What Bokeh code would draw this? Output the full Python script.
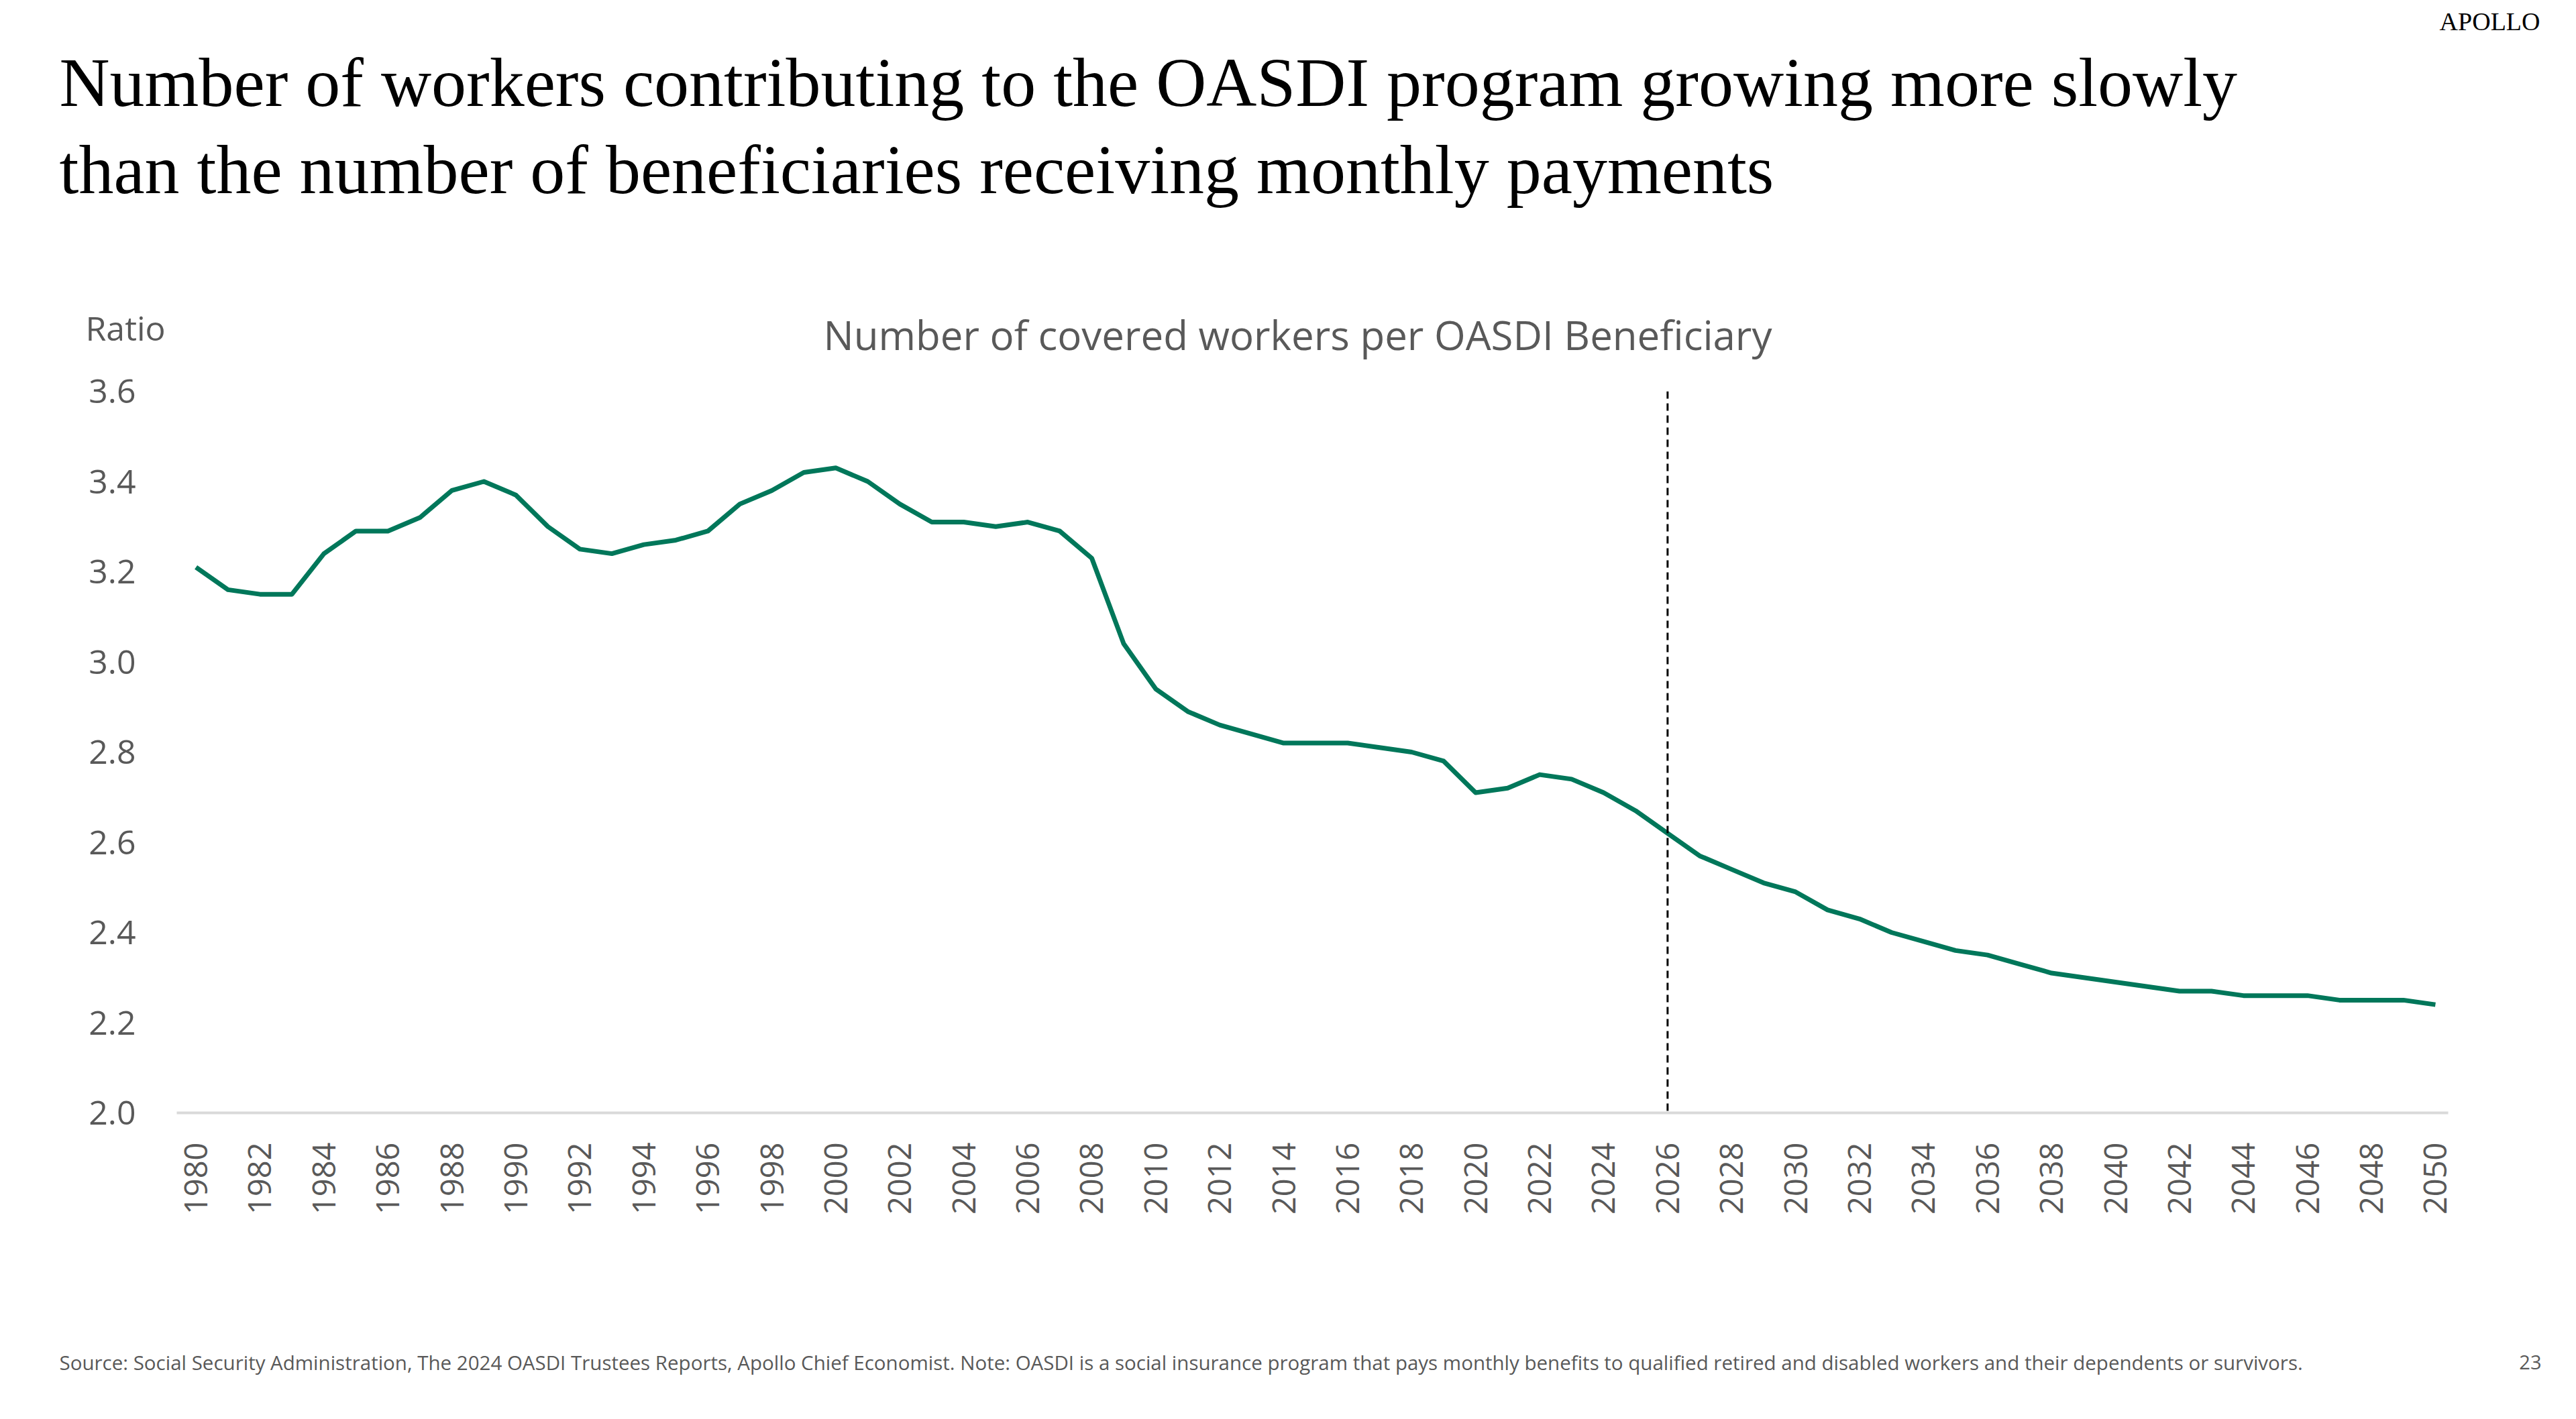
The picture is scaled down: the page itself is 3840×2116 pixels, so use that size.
from bokeh.plotting import figure
from bokeh.layouts import column
from bokeh.models import Range1d, Label, Span, FixedTicker, NumeralTickFormatter
from bokeh.embed import file_html
from bokeh.resources import INLINE
from math import pi

years = list(range(1980, 2051))
ratio = [3.21, 3.16, 3.15, 3.15, 3.24, 3.29, 3.29, 3.32, 3.38, 3.40,
         3.37, 3.30, 3.25, 3.24, 3.26, 3.27, 3.29, 3.35, 3.38, 3.42,
         3.43, 3.40, 3.35, 3.31, 3.31, 3.30, 3.31, 3.29, 3.23, 3.04,
         2.94, 2.89, 2.86, 2.84, 2.82, 2.82, 2.82, 2.81, 2.80, 2.78,
         2.71, 2.72, 2.75, 2.74, 2.71, 2.67, 2.62, 2.57, 2.54, 2.51,
         2.49, 2.45, 2.43, 2.40, 2.38, 2.36, 2.35, 2.33, 2.31, 2.30,
         2.29, 2.28, 2.27, 2.27, 2.26, 2.26, 2.26, 2.25, 2.25, 2.25,
         2.24]
x_ticks = list(range(1980, 2051, 2))
y_ticks = [2.0, 2.2, 2.4, 2.6, 2.8, 3.0, 3.2, 3.4, 3.6]
forecast_year = 2026

title_lines = ["Number of workers contributing to the OASDI program growing more slowly",
               "than the number of beneficiaries receiving monthly payments"]
chart_title = "Number of covered workers per OASDI Beneficiary"
y_label = "Ratio"
source_text = ("Source: Social Security Administration, The 2024 OASDI Trustees Reports, Apollo Chief Economist. "
               "Note: OASDI is a social insurance program that pays monthly benefits to qualified retired and "
               "disabled workers and their dependents or survivors.")
page_no = "23"
brand = "APOLLO"

W, H = 3840, 2116
TOP_H = 540          # header strip height
BOT_Y = 1990         # footer strip starts here
FL, FR, FT, FB = 263, 3649, 583, 1659  # frame edges in page px

grey = "#595959"
sans = "Open Sans"
serif = "Liberation Serif"


def no_align(f):
    try:
        f.frame_align = False
    except Exception:
        pass


def strip(height):
    f = figure(width=W, height=height, output_backend="svg", toolbar_location=None,
               x_range=Range1d(0, W), y_range=Range1d(height, 0),
               x_axis_location=None, y_axis_location=None,
               min_border=0, min_border_left=0, min_border_right=0,
               min_border_top=0, min_border_bottom=0)
    f.grid.visible = False
    f.outline_line_color = None
    f.background_fill_color = "white"
    f.border_fill_color = "white"
    no_align(f)
    return f


def add_text(f, x, y, text, size, font, color, align="left"):
    f.add_layout(Label(x=x, y=y, text=text, text_font=font, text_font_size=size,
                       text_color=color, text_align=align, text_baseline="middle"))


# header
top = strip(TOP_H)
add_text(top, 88, 122, title_lines[0], "104px", serif, "black")
add_text(top, 88, 252, title_lines[1], "104px", serif, "black")
add_text(top, 3786, 31, brand, "38px", serif, "black", align="right")
add_text(top, 1934, 498, chart_title, "60px", sans, grey, align="center")
add_text(top, 127, 488, y_label, "50px", sans, grey)

# main chart
p = figure(width=W, height=BOT_Y - TOP_H, output_backend="svg", toolbar_location=None,
           x_range=Range1d(1979.4, 2050.4), y_range=Range1d(2.0, 3.6),
           min_border_left=FL, min_border_right=W - FR,
           min_border_top=FT - TOP_H, min_border_bottom=BOT_Y - FB)
p.outline_line_color = None
p.xgrid.grid_line_color = None
p.ygrid.grid_line_color = None
p.background_fill_color = "white"
p.border_fill_color = "white"
no_align(p)

p.line(years, ratio, line_color="#00775A", line_width=7, line_join="round")
p.add_layout(Span(location=forecast_year, dimension="height", line_color="black",
                  line_width=3, line_dash="11 7"))

xa = p.xaxis[0]
xa.ticker = FixedTicker(ticks=x_ticks)
xa.major_label_orientation = pi / 2
xa.major_tick_line_color = None
xa.minor_tick_line_color = None
xa.axis_line_color = "#d9d9d9"
xa.axis_line_width = 4
xa.major_label_text_font = sans
xa.major_label_text_font_size = "47px"
xa.major_label_text_color = grey
xa.major_label_standoff = 38

ya = p.yaxis[0]
ya.ticker = FixedTicker(ticks=y_ticks)
ya.formatter = NumeralTickFormatter(format="0.0")
ya.major_tick_line_color = None
ya.minor_tick_line_color = None
ya.axis_line_color = None
ya.major_label_text_font = sans
ya.major_label_text_font_size = "50px"
ya.major_label_text_color = grey
ya.major_label_standoff = 55

# footer
bot = strip(H - BOT_Y)
add_text(bot, 88, 2031 - BOT_Y, source_text, "29.5px", sans, grey)
add_text(bot, 3788, 2031 - BOT_Y, page_no, "29px", sans, grey, align="right")

layout = column(top, p, bot, spacing=0)
open("out.html", "w").write(file_html(layout, INLINE))
